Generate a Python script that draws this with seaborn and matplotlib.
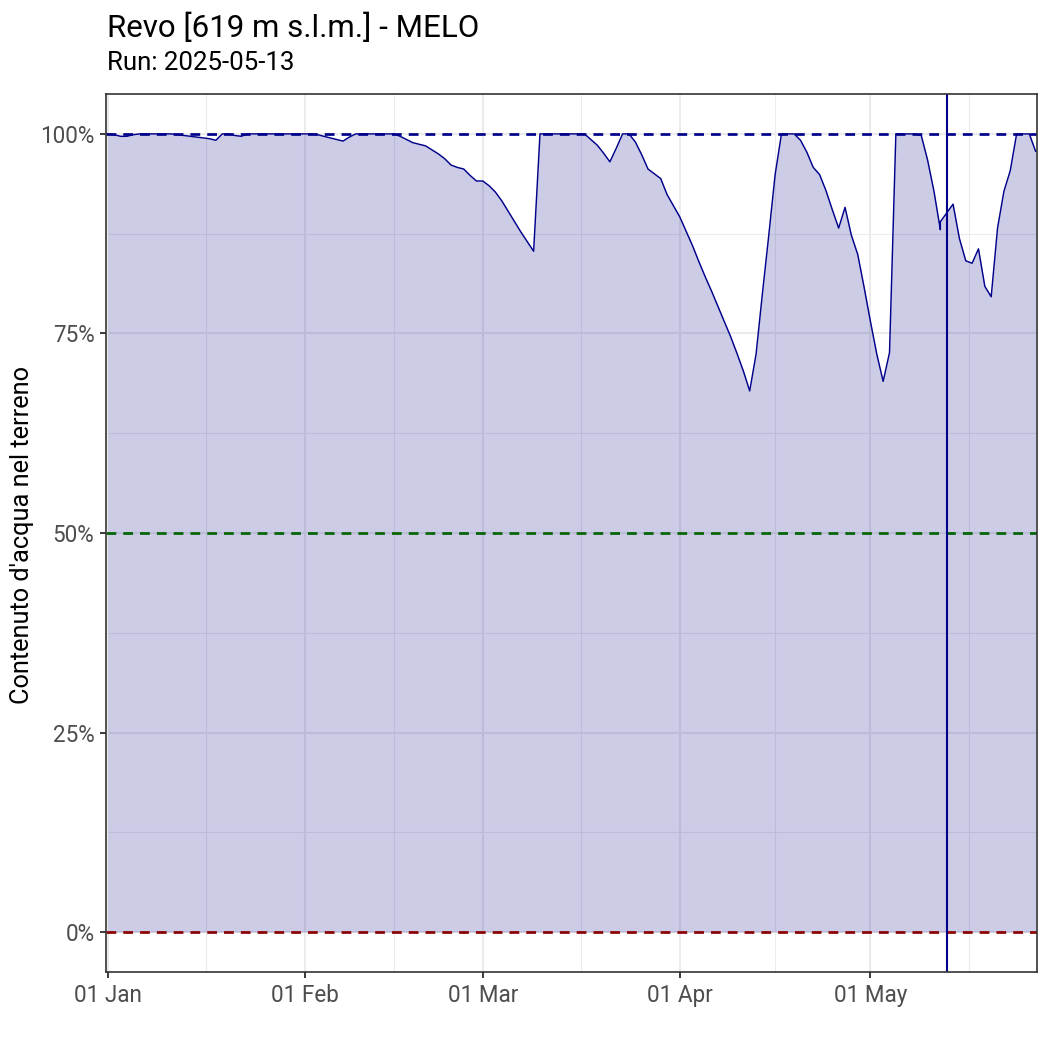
import matplotlib
matplotlib.use("Agg")
import numpy as np
import pandas as pd
import matplotlib.pyplot as plt
from matplotlib.ticker import FixedLocator
import seaborn as sns

# ---------------- data ----------------
title = "Revo [619 m s.l.m.] - MELO"
subtitle = "Run: 2025-05-13"
ylabel = "Contenuto d'acqua nel terreno"
start_date = "2025-01-01"
run_date = "2025-05-13"

# day offsets from start (day 131 appears twice: observed end / forecast start)
day_offsets = list(range(0, 132)) + [131] + list(range(132, 147))
values = [
    100, 99.9, 99.7, 99.7, 99.9, 100, 100, 100, 100, 100,          # 0-9
    100, 99.9, 99.8, 99.7, 99.6, 99.5, 99.4, 99.2, 100, 100,       # 10-19
    99.8, 99.7, 100, 100, 100, 100, 100, 100, 100, 100,            # 20-29
    100, 100, 100, 99.9, 99.7, 99.5, 99.3, 99.1, 99.6, 100,        # 30-39
    100, 100, 100, 100, 100, 100, 99.7, 99.3, 98.9, 98.7,          # 40-49
    98.5, 98.0, 97.5, 96.9, 96.1, 95.8, 95.6, 94.8, 94.1, 94.1,    # 50-59
    93.5, 92.7, 91.6, 90.3, 89.0, 87.7, 86.5, 85.3, 100, 100,      # 60-69
    100, 100, 100, 100, 100, 100, 99.3, 98.6, 97.6, 96.5,          # 70-79
    98.2, 100, 100, 99.0, 97.4, 95.6, 95.0, 94.4, 92.4, 91.0,      # 80-89
    89.6, 87.8, 86.0, 84.0, 82.1, 80.3, 78.4, 76.5, 74.6, 72.5,    # 90-99
    70.3, 67.8, 72.4, 80.0, 87.3, 94.9, 100, 100, 100, 99.2,       # 100-109
    97.7, 95.8, 94.9, 92.9, 90.5, 88.2, 90.8, 87.3, 84.9, 80.8,    # 110-119
    76.5, 72.4, 69.0, 72.6, 100, 100, 100, 100, 99.8, 96.7,        # 120-129
    92.8, 88.0,                                                    # 130-131
    89.0,                                                          # 131 (forecast start)
    90.1, 91.2, 86.9, 84.1, 83.8, 85.6, 80.9, 79.6, 88.2, 92.8,    # 132-141
    95.4, 100, 100, 100, 97.8,                                     # 142-146
]

y_ticks = [0, 25, 50, 75, 100]
y_tick_labels = ["0%", "25%", "50%", "75%", "100%"]
y_minor = [12.5, 37.5, 62.5, 87.5]
x_tick_dates = ["2025-01-01", "2025-02-01", "2025-03-01", "2025-04-01", "2025-05-01"]
x_tick_labels = ["01 Jan", "01 Feb", "01 Mar", "01 Apr", "01 May"]
x_minor_dates = ["2025-01-16 12:00", "2025-02-15 00:00", "2025-03-16 12:00",
                 "2025-04-16 00:00", "2025-05-16 12:00"]
ref_levels = [100, 50, 0]
ref_colors = ["#00008B", "#006400", "#8B0000"]

# ---------------- figure ----------------
sns.set_theme(style="white")
plt.rcParams["font.family"] = ["Roboto", "DejaVu Sans"]

df = pd.DataFrame({
    "date": pd.Timestamp(start_date) + pd.to_timedelta(day_offsets, unit="D"),
    "value": values,
})

fig = plt.figure(figsize=(7, 7), dpi=150)
ax = fig.add_axes([106 / 1050, 1 - 972 / 1050, (1037 - 106) / 1050, (972 - 94) / 1050])
ax.set_facecolor("white")

# grid
ax.set_axisbelow(True)
xt = matplotlib.dates.date2num(pd.to_datetime(x_tick_dates))
xm = matplotlib.dates.date2num(pd.to_datetime(x_minor_dates, format="%Y-%m-%d %H:%M"))

# area + line
ax.fill_between(df["date"], df["value"], 0, color="#00008B", alpha=0.2, linewidth=0, zorder=2)
sns.lineplot(data=df, x="date", y="value", estimator=None, sort=False,
             color="#00008B", linewidth=0.7, ax=ax, zorder=3)

# reference lines
for lvl, col in zip(ref_levels, ref_colors):
    ax.axhline(lvl, color=col, linewidth=1.3, linestyle=(0, (3.6, 2.6)), zorder=4)
ax.axvline(pd.Timestamp(run_date), color="#00008B", linewidth=1.0, zorder=5)

# limits
t0 = pd.Timestamp(start_date)
ax.set_xlim(t0 - pd.Timedelta(hours=7), t0 + pd.Timedelta(days=146, hours=5))
ax.set_ylim(-5, 105)

ax.xaxis.set_major_locator(FixedLocator(xt))
ax.xaxis.set_minor_locator(FixedLocator(xm))
ax.set_xticklabels(x_tick_labels)
ax.yaxis.set_major_locator(FixedLocator(y_ticks))
ax.yaxis.set_minor_locator(FixedLocator(y_minor))
ax.set_yticklabels(y_tick_labels)
ax.grid(which="major", color="#EBEBEB", linewidth=1.0)
ax.grid(which="minor", color="#EBEBEB", linewidth=0.5)
ax.set_xlabel("")
ax.set_ylabel("")

ax.tick_params(axis="both", which="major", length=2.75, width=0.9, color="#333333",
               labelcolor="#4D4D4D", labelsize=10.8, pad=2.8, direction="out",
               bottom=True, left=True)
ax.tick_params(axis="both", which="minor", length=0)

for sp in ax.spines.values():
    sp.set_color("#333333")
    sp.set_linewidth(0.8)
    sp.set_zorder(6)

fig.text(22 / 1050, 1 - 535 / 1050, ylabel, rotation=90, ha="center", va="center",
         fontsize=12.2, color="black")
fig.text(107 / 1050, 1 - 37 / 1050, title, ha="left", va="baseline",
         fontsize=15.0, color="black")
fig.text(107 / 1050, 1 - 70 / 1050, subtitle, ha="left", va="baseline",
         fontsize=12.4, color="black")

fig.savefig("out.png", dpi=150, facecolor="white")
